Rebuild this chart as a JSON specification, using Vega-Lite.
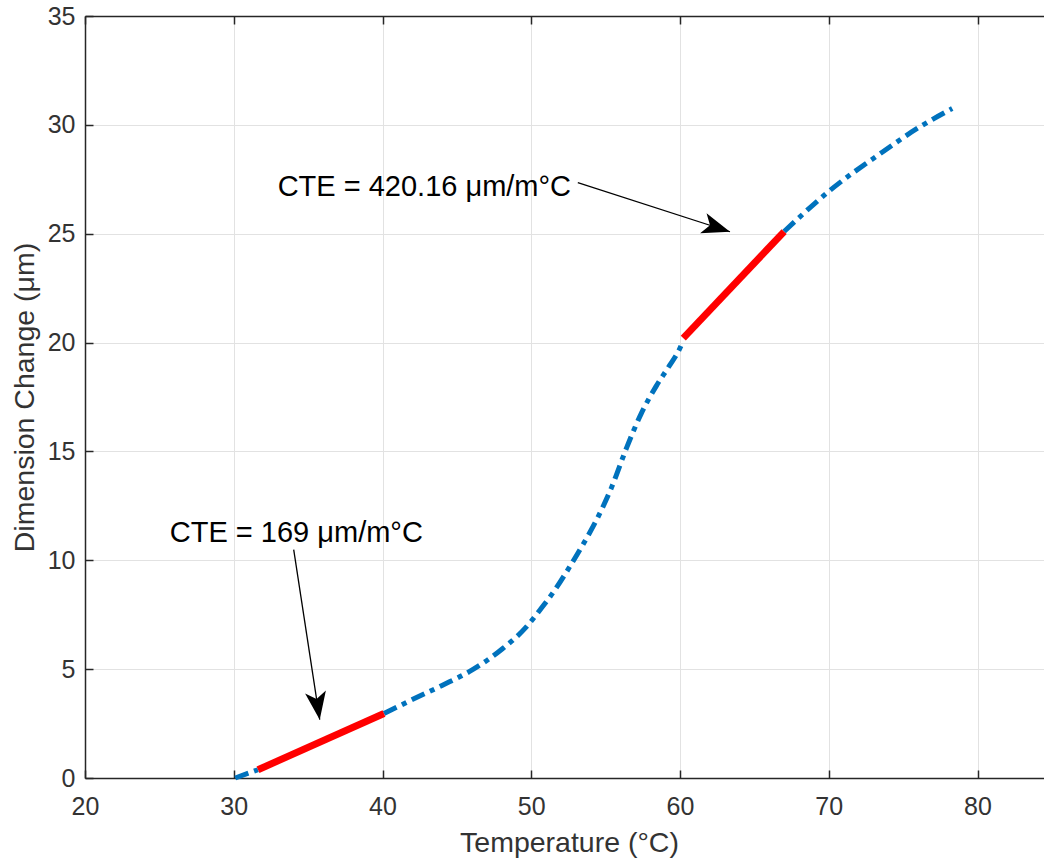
{
  "$schema": "https://vega.github.io/schema/vega-lite/v6.json",
  "width": 959,
  "height": 762,
  "autosize": "none",
  "padding": {"left": 85, "top": 16, "right": 0, "bottom": 85},
  "background": "white",
  "config": {
    "view": {"stroke": null},
    "font": "Liberation Sans",
    "axis": {
      "gridColor": "#e2e2e2",
      "gridWidth": 1,
      "domainColor": "#262626",
      "domainWidth": 1.5,
      "tickColor": "#262626",
      "tickWidth": 1.5,
      "tickSize": -8,
      "labelFlush": false,
      "labelFont": "Liberation Sans",
      "labelFontSize": 25,
      "labelColor": "#333333",
      "titleFont": "Liberation Sans",
      "titleFontSize": 28.5,
      "titleFontWeight": "normal",
      "titleColor": "#333333"
    }
  },
  "resolve": {"scale": {"x": "shared", "y": "shared"}, "axis": {"x": "independent", "y": "independent"}},
  "datasets": {
    "curve": [
      {"seg": "a", "t": 30.1, "d": 0.0},
      {"seg": "a", "t": 31.63, "d": 0.38},
      {"seg": "b", "t": 40.1, "d": 2.96},
      {"seg": "b", "t": 42, "d": 3.6},
      {"seg": "b", "t": 44, "d": 4.25},
      {"seg": "b", "t": 46, "d": 4.95},
      {"seg": "b", "t": 48, "d": 5.9},
      {"seg": "b", "t": 49.7, "d": 6.96},
      {"seg": "b", "t": 50.6, "d": 7.73},
      {"seg": "b", "t": 51.6, "d": 8.65},
      {"seg": "b", "t": 52.6, "d": 9.72},
      {"seg": "b", "t": 53.5, "d": 10.75},
      {"seg": "b", "t": 54.4, "d": 11.87},
      {"seg": "b", "t": 55.4, "d": 13.35},
      {"seg": "b", "t": 56.4, "d": 15.15},
      {"seg": "b", "t": 57.4, "d": 16.75},
      {"seg": "b", "t": 58.4, "d": 18.0},
      {"seg": "b", "t": 59.3, "d": 18.95},
      {"seg": "b", "t": 60.0, "d": 19.75},
      {"seg": "b", "t": 60.22, "d": 20.1},
      {"seg": "c", "t": 67, "d": 25.1},
      {"seg": "c", "t": 70.1, "d": 27.0},
      {"seg": "c", "t": 73.4, "d": 28.65},
      {"seg": "c", "t": 76.1, "d": 29.9},
      {"seg": "c", "t": 78.3, "d": 30.75}
    ],
    "fit": [
      {"seg": "a", "t": 31.63, "d": 0.38},
      {"seg": "a", "t": 40.1, "d": 2.96},
      {"seg": "b", "t": 60.22, "d": 20.2},
      {"seg": "b", "t": 67.0, "d": 25.1}
    ],
    "arrows": [
      {"id": "a", "t1": 53.13, "d1": 27.35, "t2": 63.36, "d2": 25.09},
      {"id": "b", "t1": 34.03, "d1": 10.49, "t2": 35.78, "d2": 2.68}
    ],
    "labels": [
      {"t": 32.95, "d": 26.72, "label": "CTE = 420.16 μm/m°C"},
      {"t": 25.7, "d": 10.82, "label": "CTE = 169 μm/m°C"}
    ]
  },
  "layer": [
    {
      "data": {"name": "curve"},
      "mark": {"type": "line", "opacity": 0},
      "encoding": {
        "x": {
          "field": "t", "type": "quantitative",
          "scale": {"domain": [20, 84.47], "nice": false, "zero": false},
          "axis": {"orient": "bottom", "grid": true, "values": [20, 30, 40, 50, 60, 70, 80], "title": "Temperature (°C)", "labelPadding": 24, "titleX": 484, "titleY": 73.5, "titleBaseline": "alphabetic", "titleAnchor": null}
        },
        "y": {
          "field": "d", "type": "quantitative",
          "scale": {"domain": [0, 35], "nice": false, "zero": false},
          "axis": {"orient": "left", "grid": true, "values": [0, 5, 10, 15, 20, 25, 30, 35], "title": "Dimension Change (μm)", "labelPadding": 18, "titleX": -52, "titleY": 381, "titleBaseline": "alphabetic", "titleAngle": -90}
        },
        "detail": {"field": "seg"}
      }
    },
    {
      "data": {"name": "curve"},
      "mark": {"type": "line", "color": "#0072BD", "strokeWidth": 5, "strokeDash": [14, 6, 5, 6], "interpolate": "monotone"},
      "encoding": {
        "x": {"field": "t", "type": "quantitative", "axis": {"orient": "top", "values": [20, 30, 40, 50, 60, 70, 80], "labels": false, "grid": false, "title": null}},
        "y": {"field": "d", "type": "quantitative", "axis": null},
        "detail": {"field": "seg"}
      }
    },
    {
      "data": {"name": "fit"},
      "mark": {"type": "line", "color": "#FF0000", "strokeWidth": 7},
      "encoding": {
        "x": {"field": "t", "type": "quantitative", "axis": null},
        "y": {"field": "d", "type": "quantitative", "axis": null},
        "detail": {"field": "seg"}
      }
    },
    {
      "data": {"name": "arrows"},
      "mark": {"type": "rule", "color": "black", "strokeWidth": 1.3},
      "encoding": {
        "x": {"field": "t1", "type": "quantitative", "axis": null},
        "y": {"field": "d1", "type": "quantitative", "axis": null},
        "x2": {"field": "t2"},
        "y2": {"field": "d2"}
      }
    },
    {
      "data": {"name": "arrows"},
      "transform": [{"filter": "datum.id === 'a'"}],
      "mark": {"type": "point", "shape": "M0,0 L-1,-0.375 L-0.75,0 L-1,0.375 Z", "size": 3136, "filled": true, "color": "black", "opacity": 1, "strokeWidth": 0, "angle": 17.9},
      "encoding": {
        "x": {"field": "t2", "type": "quantitative", "axis": null},
        "y": {"field": "d2", "type": "quantitative", "axis": null}
      }
    },
    {
      "data": {"name": "arrows"},
      "transform": [{"filter": "datum.id === 'b'"}],
      "mark": {"type": "point", "shape": "M0,0 L-1,-0.375 L-0.75,0 L-1,0.375 Z", "size": 3136, "filled": true, "color": "black", "opacity": 1, "strokeWidth": 0, "angle": 81.3},
      "encoding": {
        "x": {"field": "t2", "type": "quantitative", "axis": null},
        "y": {"field": "d2", "type": "quantitative", "axis": null}
      }
    },
    {
      "data": {"name": "labels"},
      "mark": {"type": "text", "align": "left", "baseline": "alphabetic", "font": "Liberation Sans", "fontSize": 29, "color": "black"},
      "encoding": {
        "x": {"field": "t", "type": "quantitative", "axis": null},
        "y": {"field": "d", "type": "quantitative", "axis": null},
        "text": {"field": "label"}
      }
    }
  ]
}
